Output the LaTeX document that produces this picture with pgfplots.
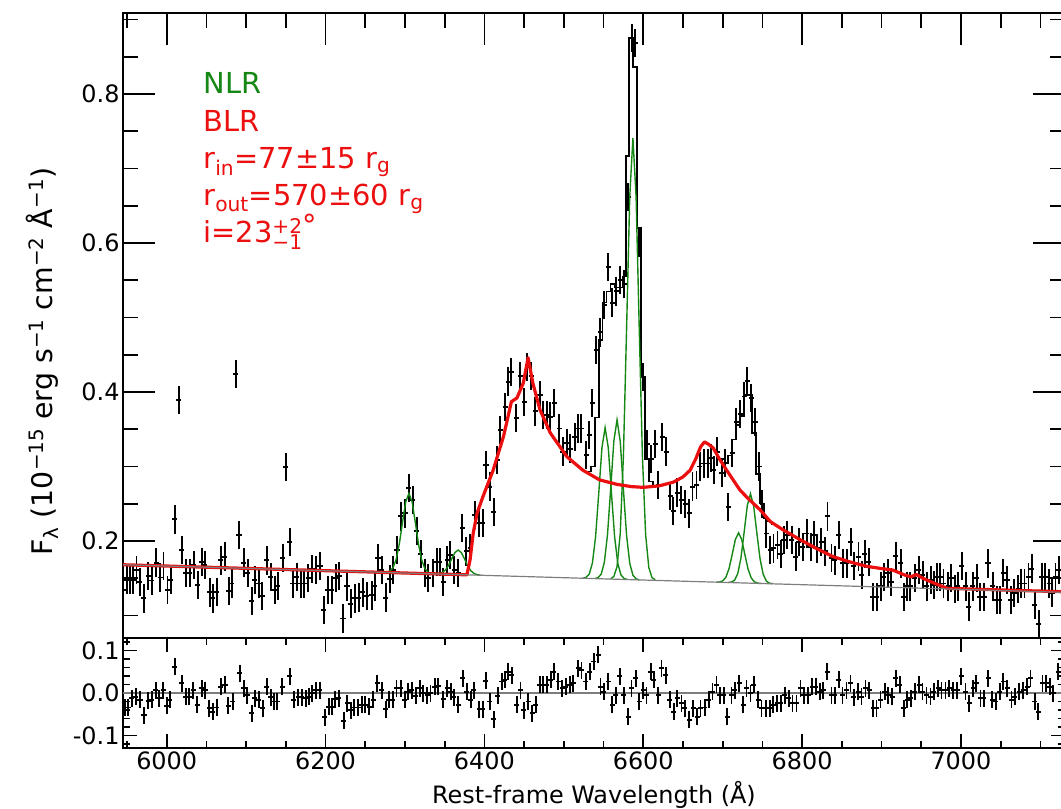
\documentclass[border=0pt]{standalone}
\usepackage{fontspec}
\setmainfont{DejaVu Sans}
\usepackage{pgfplots}
\pgfplotsset{compat=1.18}
\definecolor{nlrgreen}{RGB}{20,135,20}
\definecolor{blrred}{RGB}{235,15,15}
\definecolor{contgray}{RGB}{125,125,125}
\newcommand{\lbl}{\fontsize{24}{28}\selectfont}
\newcommand{\ylbl}{\fontsize{28.5}{33}\selectfont}
\newcommand{\ann}{\fontsize{29}{34}\selectfont}

\begin{document}
\begin{tikzpicture}
\useasboundingbox (-123bp,-61bp) rectangle (938bp,748bp);
\pgfplotsset{
  specaxis/.style={
    scale only axis, width=942bp, xmin=5945, xmax=7131,
    tick align=inside,
    axis line style={line width=1.7bp},
    major tick style={line width=1.7bp, black},
    minor tick style={line width=1.7bp, black},
    tick label style={font=\lbl},
    xtick={6000,6200,6400,6600,6800,7000},
    minor xtick={5950,6050,6100,6150,6250,6300,6350,6450,6500,6550,6650,6700,6750,6850,6900,6950,7050,7100},
    /pgf/number format/assume math mode=true,
  },
  crosses/.style={draw=none, mark=none, forget plot,
    error bars/.cd, y dir=both, y fixed=#1, x dir=both, x fixed=3.2,
    error mark=none, error bar style={draw=black, solid, line width=1.9bp}},
}

% ---------------- residual panel ----------------
\begin{axis}[specaxis, at={(0,0)}, anchor=south west, height=110bp,
  ymin=-0.1294, ymax=0.1294,
  ytick={-0.1,0,0.1}, yticklabels={-0.1,0.0,0.1},
  minor ytick={-0.12,-0.08,-0.06,-0.04,-0.02,0.02,0.04,0.06,0.08,0.12},
  xticklabels={6000,6200,6400,6600,6800,7000},
  major tick length=14bp, minor tick length=7bp,
  xlabel={Rest-frame Wavelength (Å)}, xlabel style={font=\lbl, yshift=-5bp}]
\addplot[contgray, line width=1.2bp] coordinates {(5945,0) (7131,0)};
\addplot[crosses=0.02] table {
x y
5947.5 -0.034
5951.7 -0.034
5955.9 -0.012
5961.3 -0.009
5966.4 -0.016
5971.4 -0.052
5976.8 -0.018
5981.0 -0.016
5986.1 0.007
5990.7 -0.012
5995.7 0.007
5999.9 -0.030
6004.1 -0.016
6010.4 0.062
6018.8 0.023
6024.3 -0.009
6028.5 -0.009
6033.5 0.007
6038.5 -0.028
6044.0 0.011
6048.2 0.007
6053.6 -0.036
6057.8 -0.044
6062.9 -0.034
6067.9 0.015
6073.4 0.019
6077.5 -0.030
6083.0 -0.020
6092.2 0.046
6097.3 0.011
6101.5 -0.005
6106.9 -0.048
6111.1 -0.012
6115.7 -0.016
6120.8 -0.036
6125.8 0.015
6130.8 -0.010
6135.0 -0.020
6139.4 -0.020
6145.5 0.015
6155.2 0.039
6160.2 -0.016
6165.7 -0.010
6169.9 -0.010
6174.9 -0.012
6179.1 -0.009
6183.3 -0.001
6187.9 0.006
6192.9 0.006
6199.2 -0.057
6203.8 -0.032
6208.0 -0.032
6212.2 -0.015
6216.4 -0.012
6223.1 -0.065
6227.3 -0.024
6231.5 -0.040
6235.7 -0.034
6241.2 -0.034
6245.4 -0.028
6250.0 -0.028
6255.0 -0.032
6260.1 -0.016
6265.1 0.023
6270.6 0.007
6275.6 -0.038
6279.4 -0.016
6284.4 -0.016
6289.4 0.011
6294.5 0.011
6299.9 -0.016
6304.1 0.003
6308.3 0.007
6313.8 -0.007
6318.8 0.011
6323.0 -0.001
6328.1 -0.005
6332.2 -0.001
6337.7 0.015
6341.9 0.016
6348.2 -0.015
6353.2 0.011
6357.4 0.003
6361.6 -0.010
6367.1 -0.028
6372.5 0.035
6377.6 0.003
6382.6 -0.016
6386.8 0.007
6393.5 -0.038
6397.7 -0.038
6401.9 0.029
6406.9 -0.020
6412.0 -0.062
6416.6 -0.007
6421.6 0.027
6425.8 0.031
6430.0 0.050
6434.2 0.042
6440.5 -0.028
6445.5 0.007
6449.7 -0.040
6455.2 -0.020
6460.2 -0.048
6464.8 -0.028
6469.9 0.019
6474.1 0.019
6478.3 0.019
6483.3 0.031
6487.5 0.050
6493.0 0.027
6498.0 0.011
6502.6 0.015
6507.6 0.019
6511.8 0.023
6518.1 0.058
6522.3 0.054
6527.8 0.027
6532.8 0.050
6537.9 0.074
6543.3 0.090
6546.2 0.015
6550.4 0.003
6555.9 0.027
6560.9 -0.028
6565.5 -0.005
6570.6 0.039
6575.6 -0.005
6581.0 -0.056
6585.2 0.011
6590.7 0.035
6594.9 -0.020
6599.9 0.007
6604.1 -0.005
6609.2 0.050
6613.4 0.031
6618.8 -0.005
6623.0 0.058
6628.5 0.042
6633.5 -0.016
6638.5 -0.044
6642.7 -0.012
6648.2 -0.024
6652.4 -0.036
6657.8 -0.063
6662.9 -0.036
6667.9 -0.056
6672.1 -0.036
6677.6 -0.034
6682.6 -0.016
6687.2 0.003
6692.2 0.019
6696.4 -0.005
6701.5 -0.005
6705.7 -0.056
6711.1 -0.005
6715.3 0.007
6720.8 0.023
6725.8 -0.028
6730.0 0.011
6735.0 -0.001
6739.2 0.019
6744.7 -0.016
6748.9 -0.036
6754.3 -0.036
6759.4 -0.036
6763.6 -0.028
6768.6 -0.024
6773.2 -0.024
6778.3 -0.005
6783.3 -0.012
6787.9 -0.024
6792.9 -0.024
6798.0 0.011
6802.2 -0.005
6807.6 -0.005
6812.7 0.015
6817.3 0.015
6822.3 0.003
6826.5 0.007
6831.6 0.050
6837.0 -0.005
6841.2 -0.005
6846.2 0.031
6850.8 -0.005
6855.9 0.007
6860.9 0.023
6865.1 -0.010
6870.6 0.003
6874.8 -0.009
6879.8 0.011
6884.4 0.007
6889.4 -0.036
6893.6 -0.036
6898.7 -0.016
6904.1 0.003
6908.3 -0.005
6913.4 -0.009
6918.0 0.035
6923.0 0.019
6928.1 -0.036
6932.3 -0.016
6936.9 -0.012
6941.9 0.003
6947.4 0.019
6951.6 0.003
6956.6 -0.005
6961.6 -0.009
6965.8 0.003
6971.3 0.011
6975.5 0.007
6980.5 0.007
6985.1 0.011
6990.2 0.006
6995.2 0.007
7000.6 0.039
7005.7 0.003
7010.3 -0.024
7015.3 0.011
7019.5 0.023
7024.6 -0.012
7028.8 -0.012
7034.2 0.035
7039.3 -0.016
7043.9 -0.020
7048.9 0.003
7053.1 0.027
7058.1 0.011
7063.6 -0.016
7067.8 -0.009
7073.2 0.003
7078.3 0.007
7083.3 0.015
7087.5 0.035
7093.0 -0.020
7097.2 -0.044
7102.6 0.023
7107.6 0.023
7111.8 0.015
7116.0 -0.001
7122.3 0.050
};
\end{axis}

% ---------------- spectrum panel ----------------
\begin{axis}[specaxis, at={(0,110bp)}, anchor=south west, height=625bp,
  ymin=0.0698, ymax=0.9087,
  xtick pos=right, xticklabel=\empty,
  ytick={0.2,0.4,0.6,0.8}, yticklabels={0.2,0.4,0.6,0.8},
  minor ytick={0.1,0.15,0.25,0.3,0.35,0.45,0.5,0.55,0.65,0.7,0.75,0.85,0.9},
  major tick length=32bp, minor tick length=15bp,
  ylabel={F\textsubscript{λ} (10\textsuperscript{−15} erg s\textsuperscript{−1} cm\textsuperscript{−2} Å\textsuperscript{−1})},
  ylabel style={font=\ylbl, at={(axis description cs:-0.075,0.758)}, anchor=base east, rotate=0}]

% observed spectrum
\addplot[crosses=0.019] table {
x y
5945 0.134
5950 0.148
5954 0.148
5958 0.148
5962 0.161
5966 0.145
5971 0.123
5977 0.153
5981 0.147
5987 0.171
5992 0.151
5996 0.166
6001 0.134
6005 0.148
6010 0.229
6015 0.389
6019 0.188
6024 0.157
6029 0.157
6034 0.168
6039 0.141
6044 0.172
6048 0.168
6054 0.131
6058 0.123
6063 0.132
6068 0.174
6073 0.179
6078 0.133
6082 0.143
6087 0.424
6091 0.208
6097 0.171
6102 0.157
6107 0.119
6111 0.148
6116 0.143
6120 0.126
6126 0.174
6131 0.152
6136 0.134
6140 0.140
6146 0.177
6150 0.299
6155 0.199
6159 0.143
6164 0.152
6169 0.143
6173 0.143
6178 0.150
6183 0.162
6188 0.161
6193 0.166
6198 0.107
6203 0.134
6208 0.134
6213 0.150
6217 0.153
6222 0.096
6227 0.139
6232 0.116
6237 0.123
6242 0.124
6247 0.131
6252 0.126
6258 0.127
6262 0.139
6266 0.177
6271 0.161
6276 0.124
6281 0.149
6285 0.161
6290 0.188
6295 0.233
6300 0.237
6305 0.271
6310 0.255
6315 0.213
6320 0.183
6325 0.157
6329 0.150
6335 0.157
6340 0.172
6344 0.172
6348 0.145
6353 0.174
6357 0.181
6362 0.161
6367 0.157
6372 0.217
6377 0.186
6382 0.190
6388 0.235
6393 0.224
6398 0.224
6402 0.302
6407 0.273
6412 0.239
6416 0.309
6420 0.349
6426 0.380
6430 0.414
6434 0.427
6440 0.365
6445 0.421
6450 0.387
6454 0.434
6459 0.421
6464 0.374
6470 0.396
6474 0.369
6479 0.369
6483 0.367
6488 0.385
6494 0.351
6499 0.320
6504 0.331
6508 0.324
6514 0.340
6518 0.351
6522 0.351
6528 0.315
6532 0.342
6536 0.385
6541 0.456
6546 0.480
6551 0.517
6556 0.568
6561 0.520
6566 0.535
6571 0.550
6576 0.545
6581 0.662
6586 0.875
6590 0.868
6595 0.600
6600 0.420
6605 0.330
6610 0.310
6615 0.330
6619 0.275
6624 0.340
6629 0.320
6634 0.260
6638 0.240
6643 0.265
6648 0.255
6653 0.250
6658 0.237
6662 0.273
6667 0.275
6671 0.300
6676 0.304
6681 0.304
6685 0.311
6689 0.295
6693 0.320
6699 0.291
6703 0.305
6707 0.246
6712 0.318
6717 0.360
6722 0.370
6727 0.394
6731 0.415
6736 0.392
6741 0.360
6746 0.300
6750 0.250
6755 0.210
6760 0.188
6764 0.190
6769 0.195
6773 0.183
6777 0.201
6781 0.208
6787 0.201
6792 0.179
6796 0.199
6801 0.192
6806 0.210
6811 0.192
6815 0.208
6819 0.190
6824 0.199
6829 0.186
6832 0.233
6837 0.177
6841 0.174
6846 0.208
6851 0.170
6856 0.170
6861 0.199
6865 0.166
6871 0.179
6875 0.154
6879 0.183
6884 0.172
6889 0.125
6894 0.125
6899 0.139
6903 0.152
6908 0.157
6912 0.145
6918 0.180
6924 0.170
6928 0.125
6932 0.139
6936 0.139
6942 0.150
6947 0.161
6952 0.154
6957 0.139
6962 0.148
6966 0.141
6970 0.152
6974 0.152
6978 0.143
6984 0.139
6988 0.150
6992 0.136
6996 0.139
7001 0.166
7006 0.139
7010 0.112
7015 0.139
7020 0.150
7024 0.125
7029 0.125
7034 0.170
7040 0.139
7045 0.121
7049 0.121
7053 0.157
7058 0.148
7063 0.121
7067 0.130
7072 0.136
7076 0.143
7080 0.143
7085 0.152
7089 0.163
7093 0.114
7098 0.089
7102 0.152
7106 0.152
7111 0.143
7115 0.130
7119 0.152
7123 0.161
};

% total model (binned) around the narrow-line complexes
\addplot[black, line width=1.5bp, const plot mark left] table {
x y
6527 0.293
6534 0.300
6539 0.366
6544 0.470
6549 0.520
6554 0.535
6559 0.545
6564 0.540
6569 0.540
6574 0.555
6578 0.717
6582 0.876
6587 0.836
6592 0.620
6597 0.420
6602 0.310
6607 0.280
6612 0.274
};
\addplot[black, line width=1.5bp, const plot mark left] table {
x y
6697 0.310
6702 0.304
6707 0.315
6712 0.336
6717 0.356
6722 0.368
6727 0.396
6732 0.396
6737 0.345
6742 0.290
6747 0.250
6752 0.230
6757 0.226
6762 0.222
};

% narrow-line components
\addplot[nlrgreen, line width=1.4bp] table {
x y
6277 0.1582
6281 0.1596
6285 0.1642
6289 0.1756
6293 0.1968
6297 0.2258
6301 0.2528
6305 0.2639
6309 0.2526
6313 0.2253
6317 0.1960
6321 0.1746
6325 0.1630
6329 0.1581
6333 0.1565
6339 0.1559
6343 0.1563
6347 0.1577
6351 0.1610
6355 0.1675
6359 0.1764
6363 0.1846
6367 0.1879
6371 0.1843
6375 0.1759
6379 0.1668
6383 0.1600
6387 0.1564
6391 0.1548
6395 0.1542
};
\addplot[nlrgreen, line width=1.4bp] table {
x y
6524 0.1500
6528 0.1511
6532 0.1555
6536 0.1705
6540 0.2059
6544 0.2643
6548 0.3252
6552 0.3521
6556 0.3250
6560 0.2638
6564 0.2051
6568 0.1695
6572 0.1543
6576 0.1496
6580 0.1483
};
\addplot[nlrgreen, line width=1.4bp] table {
x y
6539 0.1496
6543 0.1507
6547 0.1554
6551 0.1711
6555 0.2085
6559 0.2700
6563 0.3343
6567 0.3626
6571 0.3340
6575 0.2695
6579 0.2078
6583 0.1701
6587 0.1541
6591 0.1492
6595 0.1478
};
\addplot[nlrgreen, line width=1.4bp] table {
x y
6559 0.1492
6563 0.1524
6567 0.1656
6571 0.2096
6575 0.3133
6579 0.4839
6583 0.6622
6587 0.7410
6591 0.6620
6595 0.4834
6599 0.3125
6603 0.2086
6607 0.1644
6611 0.1509
6615 0.1478
};
\addplot[nlrgreen, line width=1.4bp] table {
x y
6692 0.1448
6696 0.1450
6700 0.1464
6704 0.1513
6708 0.1629
6712 0.1820
6716 0.2021
6720 0.2109
6724 0.2019
6728 0.1815
6732 0.1621
6736 0.1503
6740 0.1452
6744 0.1435
6748 0.1430
};
\addplot[nlrgreen, line width=1.4bp] table {
x y
6707 0.1443
6711 0.1449
6715 0.1474
6719 0.1563
6723 0.1772
6727 0.2116
6731 0.2475
6735 0.2634
6739 0.2473
6743 0.2110
6747 0.1764
6751 0.1553
6755 0.1462
6759 0.1433
6763 0.1428
};

% broad-line disc profile on top of the continuum
\addplot[blrred, line width=3.2bp, line join=round] table {
x y
5945 0.1681
6378 0.1546
6382 0.1750
6386 0.2110
6391 0.2380
6398 0.2590
6411 0.2950
6424 0.3400
6434 0.3870
6441 0.3920
6449 0.4120
6455 0.4460
6461 0.4120
6470 0.3760
6483 0.3450
6504 0.3130
6524 0.2950
6545 0.2820
6567 0.2760
6585 0.2730
6600 0.2720
6620 0.2740
6638 0.2790
6650 0.2860
6659 0.2950
6666 0.3100
6672 0.3260
6677 0.3330
6682 0.3300
6688 0.3250
6696 0.3100
6705 0.2950
6722 0.2680
6734 0.2550
6747 0.2420
6760 0.2260
6776 0.2150
6797 0.2020
6818 0.1900
6839 0.1790
6860 0.1720
6881 0.1660
6900 0.1630
6914 0.1610
6930 0.1540
6937 0.1520
6944 0.1550
6952 0.1500
6965 0.1440
6983 0.1364
7131 0.1318
};

% power-law continuum
\addplot[contgray, line width=1.2bp] coordinates {(5945,0.1681) (7131,0.1310)};

\node[anchor=base west, inner sep=0, font=\ann, text=nlrgreen] at (axis cs:6046,0.800) {NLR};
\node[anchor=base west, inner sep=0, font=\ann, text=blrred] at (axis cs:6046,0.750) {BLR};
\node[anchor=base west, inner sep=0, font=\ann, text=blrred] at (axis cs:6046,0.700) {r\textsubscript{in}=77±15 r\textsubscript{g}};
\node[anchor=base west, inner sep=0, font=\ann, text=blrred] at (axis cs:6046,0.650) {r\textsubscript{out}=570±60 r\textsubscript{g}};
\node[anchor=base west, inner sep=0, font=\ann, text=blrred] at (axis cs:6046,0.600) {i=23\rlap{\textsuperscript{+2}}\textsubscript{−1}\raisebox{0.25em}{°}};
\end{axis}
\end{tikzpicture}
\end{document}
